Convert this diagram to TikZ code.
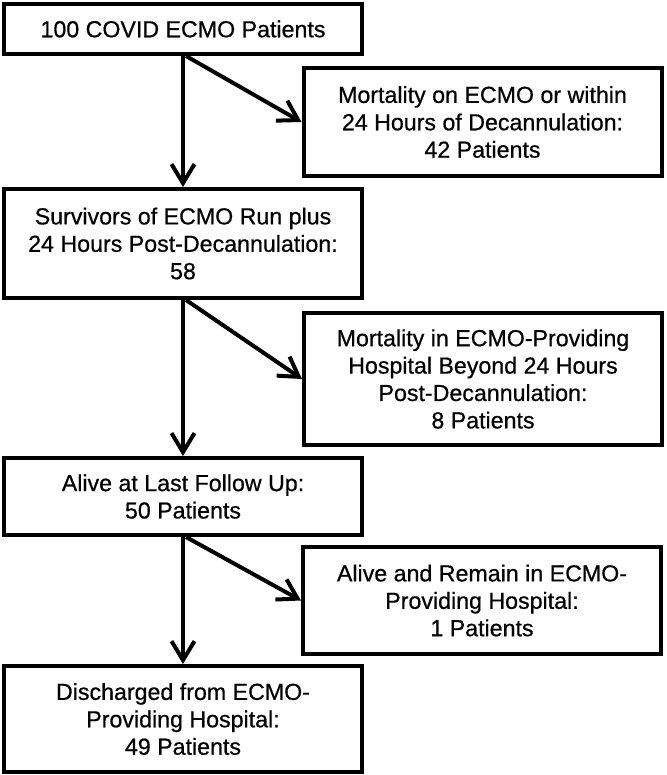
\documentclass[tikz,border=0pt]{standalone}
\usepackage{fontspec}
\setmainfont{Liberation Sans}[FakeBold=0.6]
\usetikzlibrary{arrows.meta,positioning}
\tikzset{
    box/.style={draw, line width=2pt, align=center, inner sep=0pt,
                minimum width=179pt, font=\fontsize{11.6}{13.7}\selectfont},
    arr/.style={line width=2pt, -{Straight Barb[length=9.5pt,width=11.5pt]}}
}

\begin{document}
\begin{tikzpicture}[x=0.5pt,y=-0.5pt]
    \useasboundingbox (0,0) rectangle (666,775);
    \node[box, minimum height=25pt] (start) at (183,29) {100 COVID ECMO Patients};
    \node[box, minimum height=54pt] (dead1) at (482.5,122) {Mortality on ECMO or within\\24 Hours of Decannulation:\\42 Patients};
    \node[box, minimum height=54.5pt] (surv) at (183,243.5) {Survivors of ECMO Run plus\\24 Hours Post-Decannulation:\\58};
    \node[box, minimum height=66pt] (dead2) at (483,379) {Mortality in ECMO-Providing\\Hospital Beyond 24 Hours\\Post-Decannulation:\\8 Patients};
    \node[box, minimum height=38.5pt] (alive) at (183,496.5) {Alive at Last Follow Up:\\50 Patients};
    \node[box, minimum height=53.5pt] (remain) at (482,600.5) {Alive and Remain in ECMO-\\Providing Hospital:\\1 Patients};
    \node[box, minimum height=53pt] (disch) at (183,719) {Discharged from ECMO-\\Providing Hospital:\\49 Patients};

    \draw[arr] (start) -- (surv);
    \draw[arr] ([xshift=1.5pt]start.south) -- (dead1.west);
    \draw[arr] (surv) -- (alive);
    \draw[arr] ([xshift=1.5pt]surv.south) -- (dead2.west);
    \draw[arr] (alive) -- (disch);
    \draw[arr] ([xshift=1.5pt]alive.south) -- (remain.west);
\end{tikzpicture}
\end{document}
